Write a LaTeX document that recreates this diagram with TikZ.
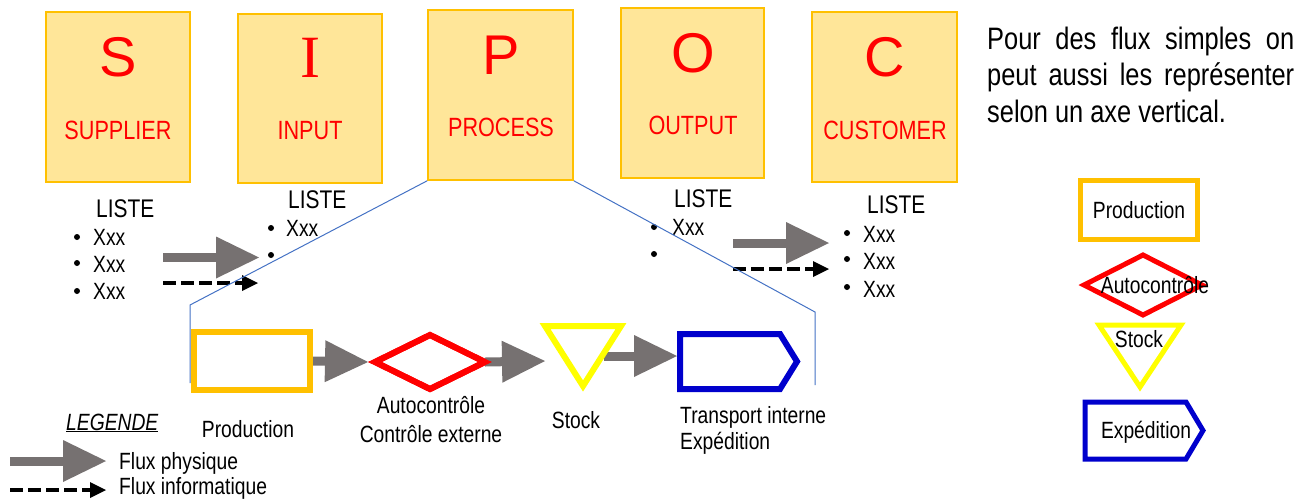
\documentclass[tikz,border=0pt]{standalone}
\usepackage{fontspec}
\setmainfont{Liberation Sans}[FakeStretch=0.82]
\newfontfamily\widefont{Liberation Sans}
\newfontfamily\myseriffont{Liberation Serif}
\usetikzlibrary{arrows.meta,shapes.geometric}
\definecolor{boxfill}{HTML}{FFE699}
\definecolor{boxline}{HTML}{FFC000}
\definecolor{flowgray}{HTML}{767171}
\definecolor{zoomblue}{HTML}{4472C4}
\definecolor{shipblue}{HTML}{0000CC}
\definecolor{stockyellow}{HTML}{FFFF00}
\newcommand\mybodyfs{\fontsize{23.5pt}{28pt}\selectfont}
\begin{document}
\begin{tikzpicture}[x=1pt,y=-1pt,
  sipocbox/.style={draw=boxline, fill=boxfill, line width=1.5pt, minimum width=144pt, minimum height=170pt, inner sep=0pt},
  bigletter/.style={text=red, font=\widefont\fontsize{56pt}{60pt}\selectfont, inner sep=0pt},
  sipoclabel/.style={text=red, font=\fontsize{26.4pt}{30pt}\selectfont, inner sep=0pt},
  txt/.style={font=\mybodyfs, inner sep=0pt},
  listehead/.style={font=\fontsize{25.5pt}{30pt}\selectfont, inner sep=0pt, anchor=base west},
  item/.style={font=\mybodyfs, inner sep=0pt, anchor=base west},
  bul/.style={circle, fill=black, inner sep=0pt, minimum size=6pt},
  grayflow/.style={draw=flowgray, line width=9pt, -{Triangle[length=43pt 0 0, width=42pt 0 0, line width=0pt 0 0]}},
  dashflow/.style={draw=black, line width=4pt, dash pattern=on 13pt off 5pt, -{Triangle[length=16pt 0 0, width=16pt 0 0, line width=0pt 0 0]}},
  zoomline/.style={draw=zoomblue, line width=1pt},
  prodshape/.style={draw=boxline, rectangle, inner sep=0pt, outer sep=0pt},
  ctrlshape/.style={draw=red, diamond, inner sep=0pt, outer sep=0pt},
  stockshape/.style={draw=stockyellow},
  shipshape/.style={draw=shipblue},
  para/.style={font=\fontsize{31pt}{36pt}\selectfont, inner sep=0pt, anchor=base west}
]
\useasboundingbox (0,0) rectangle (1297,499);

% SIPOC boxes
\node[sipocbox] (boxS) at (118,97) {};
\node[sipocbox, minimum height=169pt] (boxI) at (310,98.5) {};
\node[sipocbox, minimum width=145pt] (boxP) at (500.5,95) {};
\node[sipocbox, minimum width=143pt] (boxO) at (692.5,93) {};
\node[sipocbox, minimum width=145pt] (boxC) at (884.5,97) {};

\node[bigletter] (letS) at (118,57) {S};
\node[bigletter, font=\myseriffont\fontsize{60pt}{64pt}\selectfont] (letI) at (310,58) {I};
\node[bigletter] (letP) at (501,55) {P};
\node[bigletter] (letO) at (693,53) {O};
\node[bigletter] (letC) at (885,57) {C};

\node[sipoclabel] (labS) at (118,130) {SUPPLIER};
\node[sipoclabel] (labI) at (310,130.5) {INPUT};
\node[sipoclabel] (labP) at (501,127) {PROCESS};
\node[sipoclabel] (labO) at (693,125) {OUTPUT};
\node[sipoclabel] (labC) at (885,130) {CUSTOMER};

% lists
\node[listehead] (lsS) at (96,217) {LISTE};
\node[bul] (bS1) at (77,237) {};
\node[bul] (bS2) at (77,263) {};
\node[bul] (bS3) at (77,291) {};
\node[item] (xS1) at (93,245) {Xxx};
\node[item] (xS2) at (93,272) {Xxx};
\node[item] (xS3) at (93,299) {Xxx};

\node[listehead] (lsI) at (288,208) {LISTE};
\node[bul] (bI1) at (271,228) {};
\node[bul] (bI2) at (271,255) {};
\node[item] (xI1) at (286,236) {Xxx};

\node[listehead] (lsO) at (674,207) {LISTE};
\node[bul] (bO1) at (654,227) {};
\node[bul] (bO2) at (654,254) {};
\node[item] (xO1) at (672,235) {Xxx};

\node[listehead] (lsC) at (867,213) {LISTE};
\node[bul] (bC1) at (847,233) {};
\node[bul] (bC2) at (847,259) {};
\node[bul] (bC3) at (847,287) {};
\node[item] (xC1) at (863,242) {Xxx};
\node[item] (xC2) at (863,269) {Xxx};
\node[item] (xC3) at (863,297) {Xxx};

% top flows
\coordinate (f1a) at (163,257.5); \coordinate (f1b) at (259,257.5);
\coordinate (d1a) at (163,283);   \coordinate (d1b) at (258,283);
\coordinate (f2a) at (733,243);   \coordinate (f2b) at (829,243);
\coordinate (d2a) at (733,269);   \coordinate (d2b) at (829,269);
\draw[grayflow] (f1a) -- (f1b);
\draw[dashflow] (d1a) -- (d1b);
\draw[grayflow] (f2a) -- (f2b);
\draw[dashflow] (d2a) -- (d2b);

% bottom process row
\coordinate (st1) at (545,326); \coordinate (st2) at (621,326); \coordinate (st3) at (583,386);
\coordinate (stin) at (545,361); \coordinate (stout) at (604,356);
\coordinate (sh1) at (680,334); \coordinate (sh2) at (780,334); \coordinate (sh3) at (797,361.5);
\coordinate (sh4) at (780,389); \coordinate (sh5) at (680,389);
\coordinate (shin) at (677,356);

\node[prodshape, line width=6pt, minimum width=116pt, minimum height=58pt] (prod) at (252,361) {};
\node[ctrlshape, line width=6pt, minimum width=110pt, minimum height=54pt] (ctrl) at (430,362) {};

\draw[grayflow] ([xshift=3pt]prod.east) -- ([xshift=-7pt]ctrl.west);
\draw[grayflow] (ctrl.east) -- (stin);
\draw[grayflow] (stout) -- (shin);

\node[prodshape, line width=6pt, minimum width=116pt, minimum height=58pt] (prod2) at (252,361) {};
\node[ctrlshape, line width=6pt, minimum width=110pt, minimum height=54pt] (ctrl2) at (430,362) {};
\draw[stockshape, line width=6pt] (st1) -- (st2) -- (st3) -- cycle;
\draw[shipshape, line width=6pt] (sh1) -- (sh2) -- (sh3) -- (sh4) -- (sh5) -- cycle;

\node[txt, anchor=base] (tprod) at (248,437) {Production};
\node[txt, anchor=base] (tctrl1) at (431,413) {Autocontrôle};
\node[txt, anchor=base] (tctrl2) at (431,442) {Contrôle externe};
\node[txt, anchor=base] (tstock) at (576,428) {Stock};
\node[txt, anchor=base west] (tship1) at (680,423) {Transport interne};
\node[txt, anchor=base west] (tship2) at (680,449) {Expédition};

% zoom lines
\coordinate (zl1) at (190,305); \coordinate (zl2) at (190,383);
\coordinate (zr1) at (815,312); \coordinate (zr2) at (815,385);
\draw[zoomline] (boxP.south west) -- (zl1) -- (zl2);
\draw[zoomline] (boxP.south east) -- (zr1) -- (zr2);

% legend
\node[txt, anchor=base west, font=\mybodyfs\itshape] (leg) at (66,430) {\underline{LEGENDE}};
\coordinate (lg1a) at (10,461); \coordinate (lg1b) at (106,461);
\coordinate (lg2a) at (10,490); \coordinate (lg2b) at (106,490);
\draw[grayflow] (lg1a) -- (lg1b);
\draw[dashflow] (lg2a) -- (lg2b);
\node[txt, anchor=base west] (lgt1) at (119,469) {Flux physique};
\node[txt, anchor=base west] (lgt2) at (119,494) {Flux informatique};

% right side
\node[para] (p1) at (987,49) {\makebox[307pt][s]{Pour des flux simples on}};
\node[para] (p2) at (987,85.5) {\makebox[307pt][s]{peut aussi les représenter}};
\node[para] (p3) at (987,122) {selon un axe vertical.};

\node[prodshape, line width=5pt, minimum width=117pt, minimum height=59pt] (vprod) at (1138.5,209.5) {};
\node[ctrlshape, line width=5pt, minimum width=118pt, minimum height=60pt] (vctrl) at (1143,285) {};
\coordinate (vs1) at (1099,325); \coordinate (vs2) at (1181,325); \coordinate (vs3) at (1140,387);
\draw[stockshape, line width=5pt] (vs1) -- (vs2) -- (vs3) -- cycle;
\coordinate (vh1) at (1085,402); \coordinate (vh2) at (1186,402); \coordinate (vh3) at (1203,430.5);
\coordinate (vh4) at (1186,459); \coordinate (vh5) at (1085,459);
\draw[shipshape, line width=5pt] (vh1) -- (vh2) -- (vh3) -- (vh4) -- (vh5) -- cycle;

\node[txt, anchor=base] (vtprod) at (1139,218) {Production};
\node[txt, anchor=base] (vtctrl) at (1155,293) {Autocontrôle};
\node[txt, anchor=base] (vtstock) at (1139,347) {Stock};
\node[txt, anchor=base] (vtship) at (1146,438) {Expédition};
\end{tikzpicture}
\end{document}
